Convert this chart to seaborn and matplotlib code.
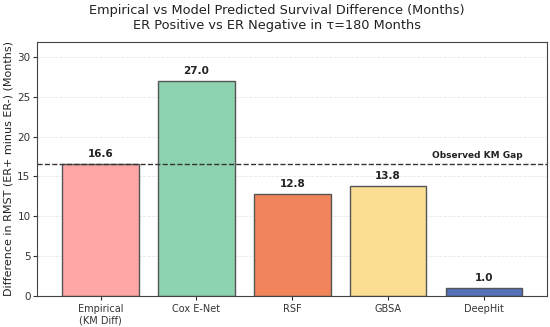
import pandas as pd
import matplotlib.pyplot as plt
import seaborn as sns

# data
models = ['Empirical\n(KM Diff)', 'Cox E-Net', 'RSF', 'GBSA', 'DeepHit']
rmst_diff = [16.6, 27.0, 12.8, 13.8, 1.0]
bar_colors = ['#FFA6A6', '#8ED3B0', '#F2845C', '#FBDE94', '#5470B9']
observed_gap = 16.6

df = pd.DataFrame({'model': models, 'diff': rmst_diff})

sns.set_style('whitegrid')
plt.rcParams['font.family'] = ['DejaVu Sans']

fig, ax = plt.subplots(figsize=(5.5, 3.27), dpi=100)
sns.barplot(data=df, x='model', y='diff', hue='model', palette=bar_colors,
            saturation=1, legend=False, width=0.8, edgecolor='#555555',
            linewidth=1.0, ax=ax)

ax.axhline(observed_gap, color='#333333', linestyle='--', linewidth=1.0)
ax.text(4.4, observed_gap + 0.5, 'Observed KM Gap', ha='right', va='bottom',
        fontsize=6.5, fontweight='bold', color='#222222')

for i, v in enumerate(rmst_diff):
    ax.text(i, v + 0.6, f'{v:.1f}', ha='center', va='bottom',
            fontsize=7.5, fontweight='bold', color='#222222')

ax.set_xlim(-0.66, 4.66)
ax.set_ylim(0, 31.9)
ax.set_xlabel('')
ax.set_ylabel('Difference in RMST (ER+ minus ER-) (Months)', fontsize=8,
              color='#222222', labelpad=3)
fig.suptitle('Empirical vs Model Predicted Survival Difference (Months)\n'
             'ER Positive vs ER Negative in τ=180 Months', fontsize=9.3,
             color='#222222', x=0.503, y=0.988, va='top')
ax.tick_params(axis='x', labelsize=7, colors='#333333', length=3, pad=3)
ax.tick_params(axis='y', labelsize=7.5, colors='#333333', length=3, pad=2)
ax.tick_params(axis='both', which='both', bottom=True, left=True)
ax.grid(axis='x', visible=False)
ax.grid(axis='y', linestyle='--', color='#DDDDDD', linewidth=0.6, alpha=0.7)
for s in ax.spines.values():
    s.set_color('#444444')
    s.set_linewidth(0.8)

plt.subplots_adjust(left=0.068, right=0.995, top=0.872, bottom=0.095)
fig.savefig('out.png', dpi=100)
